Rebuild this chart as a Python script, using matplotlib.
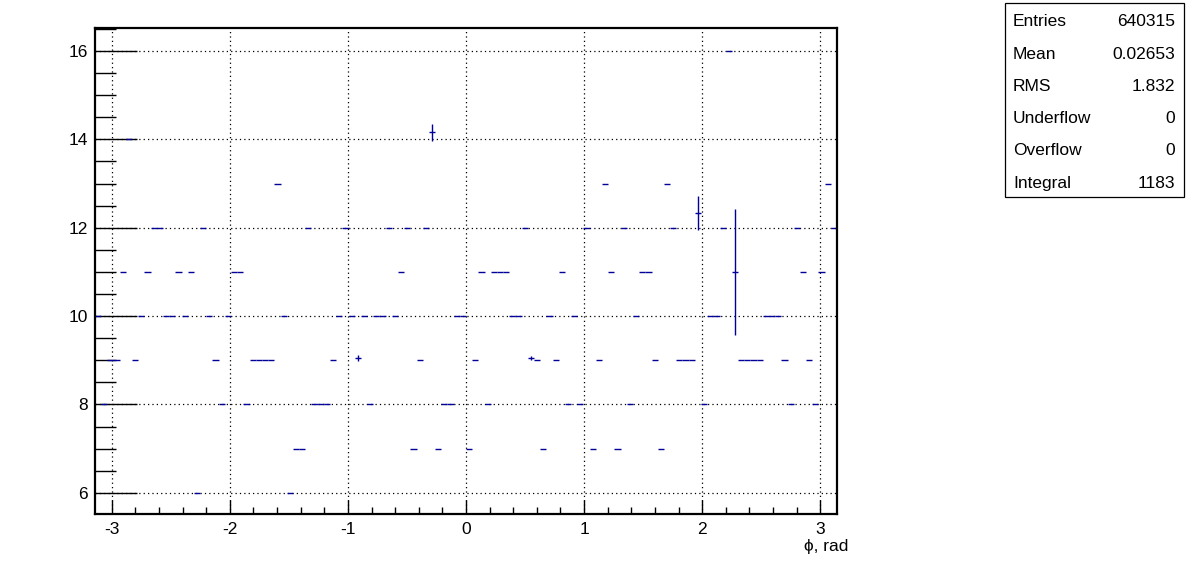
import numpy as np
import matplotlib
matplotlib.use("Agg")
import matplotlib.pyplot as plt
from matplotlib.patches import Rectangle

plt.rcParams['font.family'] = ['Liberation Sans', 'DejaVu Sans']

# profile: 120 bins over [-pi, pi]
n_bins = 120
phi_min, phi_max = -np.pi, np.pi

bin_values = [
    10, 8, 9, 9, 11, 14, 9, 10, 11, 12,
    12, 10, 10, 11, 10, 11, 6, 12, 10, 9,
    8, 10, 11, 11, 8, 9, 9, 9, 9, 13,
    10, 6, 7, 7, 12, 8, 8, 8, 9, 10,
    12, 10, 9.05, 10, 8, 10, 10, 12, 10, 11,
    12, 7, 9, 12, 14.16, 7, 8, 8, 10, 10,
    7, 9, 11, 8, 11, 11, 11, 10, 10, 12,
    9.05, 9, 7, 10, 9, 11, 8, 10, 8, 12,
    7, 9, 13, 11, 7, 12, 8, 10, 11, 11,
    9, 7, 13, 12, 9, 9, 9, 12.33, 8, 10,
    10, 12, 16, 11, 9, 9, 9, 9, 10, 10,
    10, 9, 8, 12, 11, 9, 8, 11, 13, 12,
]

# bins with a visible error bar
err_bins = [42, 54, 70, 97, 103]
err_sizes = [0.06, 0.19, 0.05, 0.39, 1.43]

stats_names = ["Entries", "Mean", "RMS", "Underflow", "Overflow", "Integral"]
stats_values = ["640315", "0.02653", "1.832", "0", "0", "1183"]

edges = np.linspace(phi_min, phi_max, n_bins + 1)
centers = 0.5 * (edges[:-1] + edges[1:])
half_w = 0.5 * (edges[1] - edges[0])
yerr = np.zeros(n_bins)
for b, e in zip(err_bins, err_sizes):
    yerr[b] = e

W, H = 1196, 572
fig = plt.figure(figsize=(W / 100, H / 100), dpi=100)
ax = fig.add_axes([95 / W, 1 - 514 / H, (837 - 95) / W, (514 - 28) / H])

ax.errorbar(centers, bin_values, xerr=half_w, yerr=yerr, fmt='none',
            ecolor='#000099', elinewidth=1.0, capsize=0, zorder=2)

xmaj = np.arange(-3, 4, 1)
ymaj = np.arange(6, 17, 2)
ax.set_xticks(xmaj)
ax.set_xticks(np.arange(-3.2, 3.21, 0.2), minor=True)
ax.set_yticks(ymaj)
ax.set_yticks(np.arange(5.5, 16.6, 0.5), minor=True)
ax.set_xticklabels(["-3", "-2", "-1", "0", "1", "2", "3"])

# limits after the ticks, set_xticks would widen them otherwise
ax.set_xlim(phi_min, phi_max)
ax.set_ylim(5.52, 16.52)

# dotted grid under the data, ticks stay on top
grid_kw = dict(color='black', linestyle=(0, (1, 2.5)), linewidth=0.9, zorder=1)
for xv in xmaj:
    ax.axvline(xv, **grid_kw)
for yv in ymaj:
    ax.axhline(yv, **grid_kw)

ax.tick_params(axis='x', which='major', direction='in', length=10, width=1, labelsize=12.5, pad=6)
ax.tick_params(axis='x', which='minor', direction='in', length=5, width=1)
ax.tick_params(axis='y', which='major', direction='in', length=30, width=1, labelsize=12.5, pad=5)
ax.tick_params(axis='y', which='minor', direction='in', length=15, width=1)
for s in ax.spines.values():
    s.set_linewidth(1.6)

fig.text(848 / W, 1 - 546 / H, "ϕ, rad", ha='right', va='center', fontsize=12.5)

# stats box
box = Rectangle((1005 / W, 1 - 197 / H), (1184 - 1005) / W, (197 - 3) / H,
                transform=fig.transFigure, fill=False, edgecolor='black', linewidth=0.9)
fig.add_artist(box)
for i, (name, val) in enumerate(zip(stats_names, stats_values)):
    y = 1 - (22 + i * 32.2) / H
    fig.text(1013 / W, y, name, ha='left', va='center', fontsize=12.5)
    fig.text(1175 / W, y, val, ha='right', va='center', fontsize=12.5)

fig.savefig("out.png", dpi=100)
